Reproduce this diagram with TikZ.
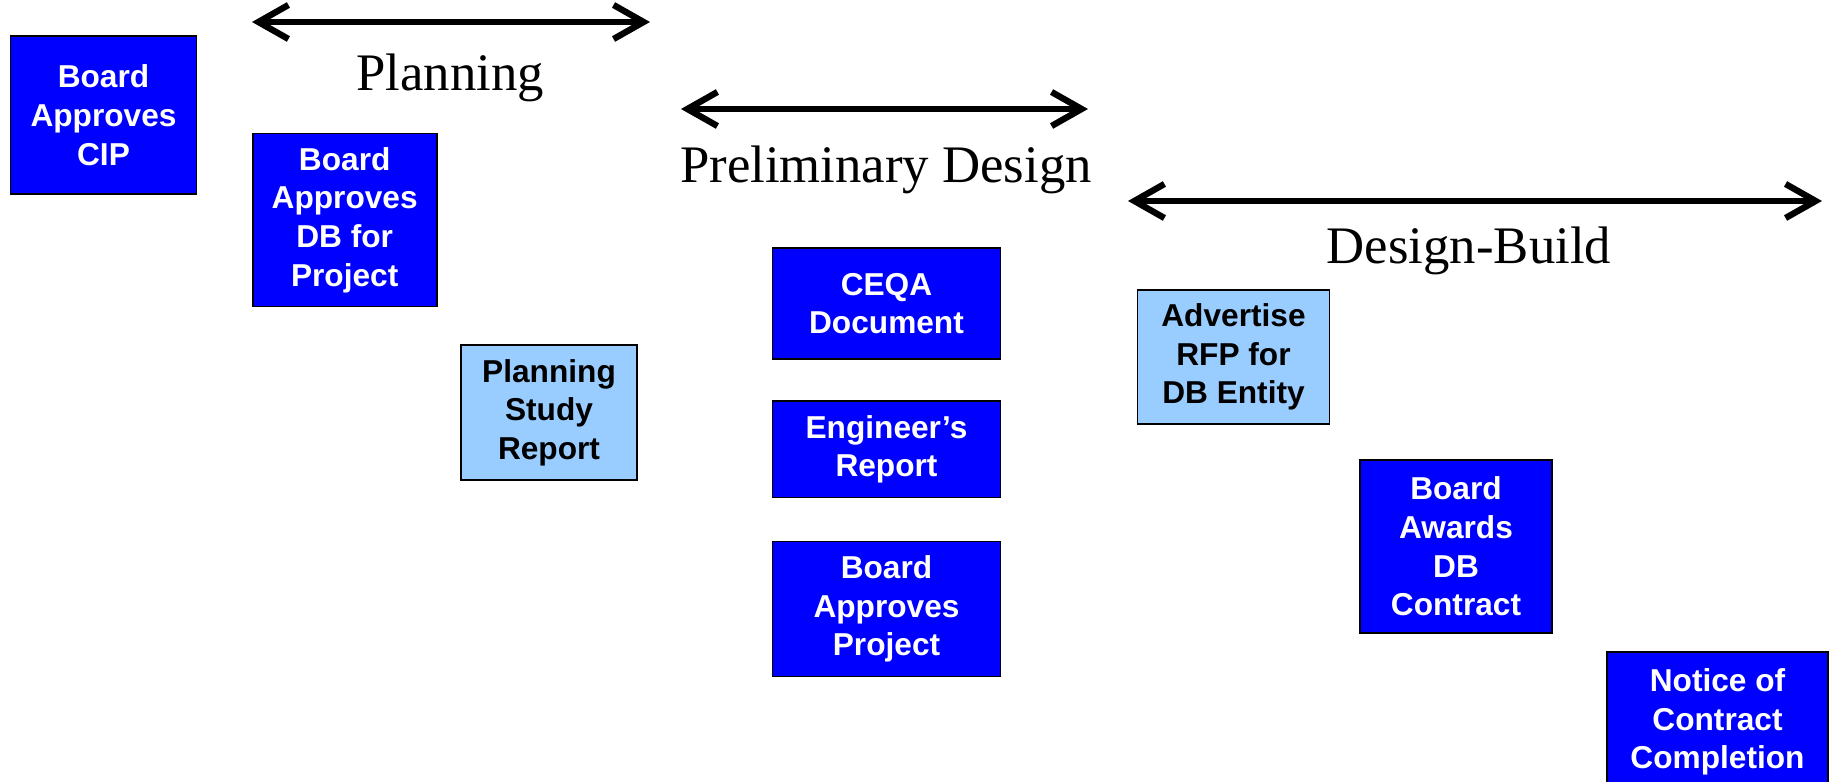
\documentclass[tikz,border=0pt]{standalone}
\usepackage{fontspec}
\setmainfont{Liberation Serif}
\setsansfont{Liberation Sans}
\usetikzlibrary{arrows.meta}

\definecolor{stageblue}{RGB}{0,0,255}
\definecolor{stagelight}{RGB}{153,204,255}

\begin{document}
\begin{tikzpicture}[
    x=0.01cm, y=-0.01cm,
    % Styles für die Kästen und Phasenpfeile
    stage/.style={draw=black, line width=0.5pt, inner sep=0pt, align=center,
        font=\sffamily\bfseries\fontsize{9}{11}\selectfont},
    board/.style={stage, fill=stageblue, text=white},
    report/.style={stage, fill=stagelight, text=black},
    phase/.style={{Straight Barb[length=3mm,width=3.4mm]}-{Straight Barb[length=3mm,width=3.4mm]},
        line width=1.8pt, line cap=round, line join=round},
    phaselabel/.style={font=\fontsize{15}{18}\selectfont}
]

\path[fill=white, use as bounding box] (0,0) rectangle (1835,782);

% --- PLANNING ---
\coordinate (planL) at (252,22);
\coordinate (planR) at (650,22);
\draw[phase] (planL) -- (planR);
\node[phaselabel] (planning) at (450,78) {Planning};

\node[board, minimum width=1.86cm, minimum height=1.58cm] (cip) at (103.5,115.3) {Board\\Approves\\CIP};
\node[board, minimum width=1.84cm, minimum height=1.73cm] (dbproject) at (344.7,220) {Board\\Approves\\DB for\\Project};
\node[report, minimum width=1.76cm, minimum height=1.35cm] (study) at (549,412.6) {Planning\\Study\\Report};

% --- PRELIMINARY DESIGN ---
\coordinate (prelimL) at (681,109);
\coordinate (prelimR) at (1088,109);
\draw[phase] (prelimL) -- (prelimR);
\node[phaselabel] (prelim) at (886,170) {Preliminary Design};

\node[board, minimum width=2.28cm, minimum height=1.11cm] (ceqa) at (886.5,303.7) {CEQA\\Document};
\node[board, minimum width=2.28cm, minimum height=0.96cm] (engineer) at (886.5,449.4) {Engineer’s\\Report};
\node[board, minimum width=2.28cm, minimum height=1.35cm] (project) at (886.5,609) {Board\\Approves\\Project};

% --- DESIGN-BUILD ---
\coordinate (dbL) at (1128,201);
\coordinate (dbR) at (1822,201);
\draw[phase] (dbL) -- (dbR);
\node[phaselabel] (designbuild) at (1469,251) {Design-Build};

\node[report, minimum width=1.92cm, minimum height=1.34cm] (rfp) at (1233.5,357) {Advertise\\RFP for\\DB Entity};
\node[board, minimum width=1.92cm, minimum height=1.73cm] (awards) at (1456,546.5) {Board\\Awards\\DB\\Contract};
\node[board, minimum width=2.21cm, minimum height=1.4cm] (completion) at (1717.5,722) {Notice of\\Contract\\Completion};

\end{tikzpicture}
\end{document}
